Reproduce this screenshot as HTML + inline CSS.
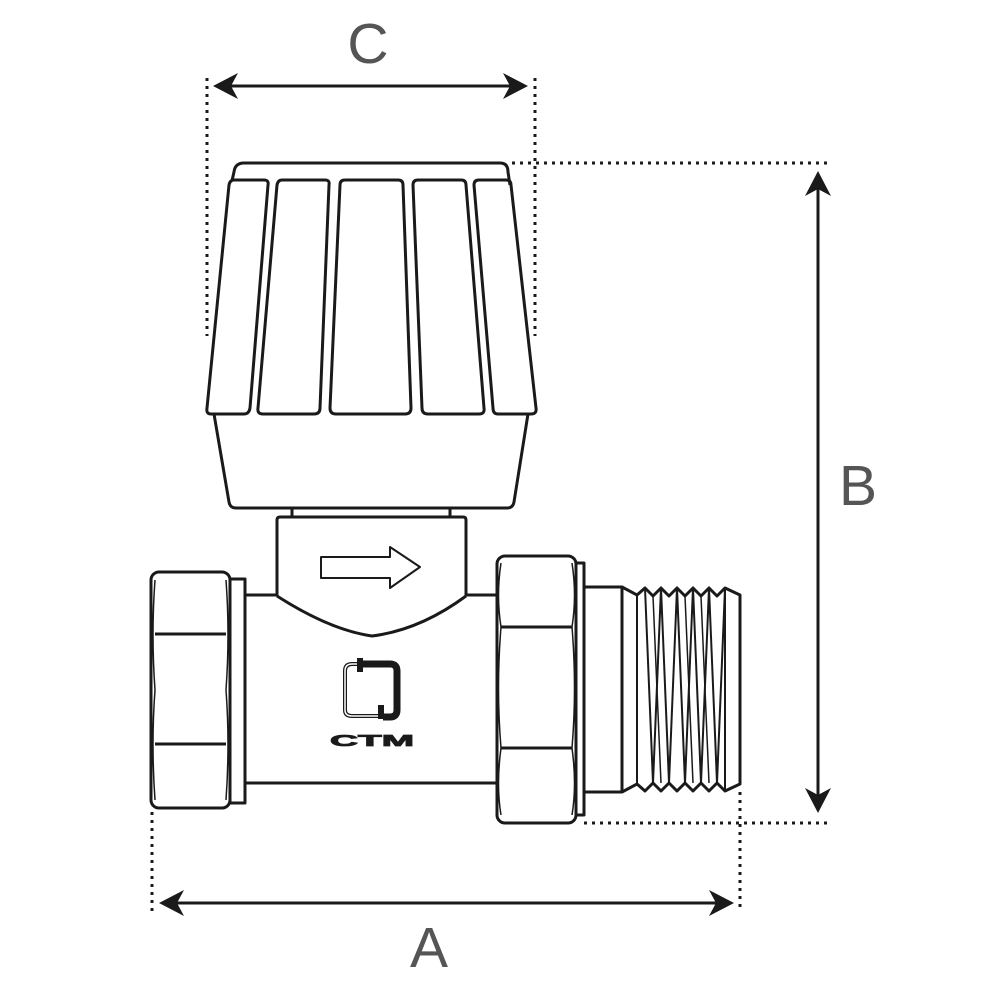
<!DOCTYPE html>
<html><head><meta charset="utf-8"><style>
html,body{margin:0;padding:0;background:#fff;}
svg{display:block;}
</style></head><body>
<svg width="1000" height="1000" viewBox="0 0 1000 1000" xmlns="http://www.w3.org/2000/svg">
<g fill="none" stroke="#1a1a1a" stroke-width="3" stroke-linejoin="round">
<path d="M231,185 L234,172 Q235,163 244,163 L500,163 Q508,163 508,172 L510,185"/>
<path d="M234,180 L264,180 Q269,180 268,185 L250,408 Q249,414 244,414 L211,414 Q206,414 207,408 L229,185 Q230,180 234,180 Z" fill="#fff"/>
<path d="M282,180 L325,180 Q330,180 329,185 L320,408 Q320,414 314,414 L263,414 Q257,414 258,408 L277,185 Q278,180 282,180 Z" fill="#fff"/>
<path d="M345,180 L398,180 Q403,180 403,185 L411,408 Q411,414 405,414 L336,414 Q330,414 330,408 L340,185 Q340,180 345,180 Z"/>
<path d="M418,180 L461,180 Q466,180 466,185 L484,408 Q485,414 479,414 L428,414 Q422,414 422,408 L413,185 Q413,180 418,180 Z"/>
<path d="M479,180 L506,180 Q511,180 511,185 L536,408 Q537,414 531,414 L498,414 Q493,414 493,408 L474,185 Q474,180 479,180 Z"/>
<path d="M214,414 L229,502 Q230,508 236,508 L507,508 Q513,508 514,502 L528,414"/>
<path d="M292,508 L292,517 M450,508 L450,517"/>
<path d="M277,596 L277,520 Q277,517 280,517 L463,517 Q466,517 466,520 L466,596"/>
<path d="M277,596 Q330,630 372,636 Q420,630 466,596"/>
<path d="M321,557 L390,557 L390,547 L420,567 L390,588 L390,578 L321,578 Z" stroke-width="2"/>
<path d="M245,595 L277,595 M466,595 L497,595 M245,783 L497,783"/>
<rect x="230" y="579" width="15" height="224"/>
<rect x="151" y="572" width="79" height="236" rx="8"/>
<path d="M155,634 L226,634 M155,744 L226,744" />
<path d="M155,580 Q151,634 155,690 Q151,744 155,800 M226,580 Q230,634 226,690 Q230,744 226,800" stroke-width="1.5"/>
<rect x="576" y="563" width="8" height="252"/>
<rect x="497" y="556" width="79" height="267" rx="8"/>
<path d="M501,627 L572,627 M501,748 L572,748"/>
<path d="M501,563 Q496,595 501,627 Q496,688 501,748 Q496,785 501,815 M572,563 Q577,595 572,627 Q577,688 572,748 Q577,785 572,815" stroke-width="1.5"/>
<path d="M584,587 L622,587 L622,792 L584,792"/>
<path d="M622,587 L637,595 L645,588 L653,596 L661,588 L669,596 L677,588 L685,596 L693,588 L701,596 L709,588 L717,596 L725,588 L740,595 L740,784 L725,791 L717,783 L709,791 L701,783 L693,791 L685,783 L677,791 L669,783 L661,791 L653,783 L645,791 L637,784 L622,792"/>
<path d="M637,595 L637,784 M725,588 L725,791" stroke-width="2"/>
<path d="M645,588 L653,783 L661,588 L669,783 L677,588 L685,783 L693,588 L701,783 L709,588 L717,783 L725,588" stroke-width="2"/>
<path d="M653,596 L661,783 M685,596 L693,783 M701,596 L709,783" stroke-width="1.5"/>
</g>
<g>
<path d="M361,664 L352,664 Q345,664 345,671 L345,710 Q345,716 352,716 L383,716" fill="none" stroke="#1a1a1a" stroke-width="4"/>
<path d="M361,664 L352,664 Q345,664 345,671 L345,710 Q345,716 352,716 L383,716" fill="none" stroke="#fff" stroke-width="1.5"/>
<path d="M360,664 L390,664 Q397,664 397,671 L397,710 Q397,717 390,717 L383,717" fill="none" stroke="#1a1a1a" stroke-width="7"/>
<rect x="357" y="658" width="6" height="14" fill="#1a1a1a"/>
<rect x="378" y="705" width="6" height="14" fill="#1a1a1a"/>
<text x="330" y="746" font-family="Liberation Sans, sans-serif" font-size="16" font-weight="bold" fill="#1a1a1a" stroke="#1a1a1a" stroke-width="0.8" textLength="84" lengthAdjust="spacingAndGlyphs">CTM</text>
</g>
<g stroke="#1a1a1a" stroke-width="3" stroke-dasharray="3 5" fill="none">
<path d="M207,78 L207,336 M535,78 L535,336"/>
<path d="M512,163 L828,163 M584,823 L828,823"/>
<path d="M152,812 L152,912 M740,792 L740,912"/>
</g>
<g stroke="#1a1a1a" stroke-width="3" fill="none">
<path d="M222,86 L518,86 M818,180 L818,804 M168,903 L725,903"/>
</g>
<g fill="#1a1a1a">
<path d="M213,86 L238,73 L231,86 L238,99 Z"/>
<path d="M528,86 L503,73 L510,86 L503,99 Z"/>
<path d="M818,171 L805,196 L818,189 L831,196 Z"/>
<path d="M818,813 L805,788 L818,795 L831,788 Z"/>
<path d="M159,903 L184,890 L177,903 L184,916 Z"/>
<path d="M734,903 L709,890 L716,903 L709,916 Z"/>
</g>
<g font-family="Liberation Sans, sans-serif" font-size="57" fill="#555">
<text x="368" y="63" text-anchor="middle">C</text>
<text x="858" y="505" text-anchor="middle">B</text>
<text x="429" y="967" text-anchor="middle">A</text>
</g>
</svg>
</body></html>
